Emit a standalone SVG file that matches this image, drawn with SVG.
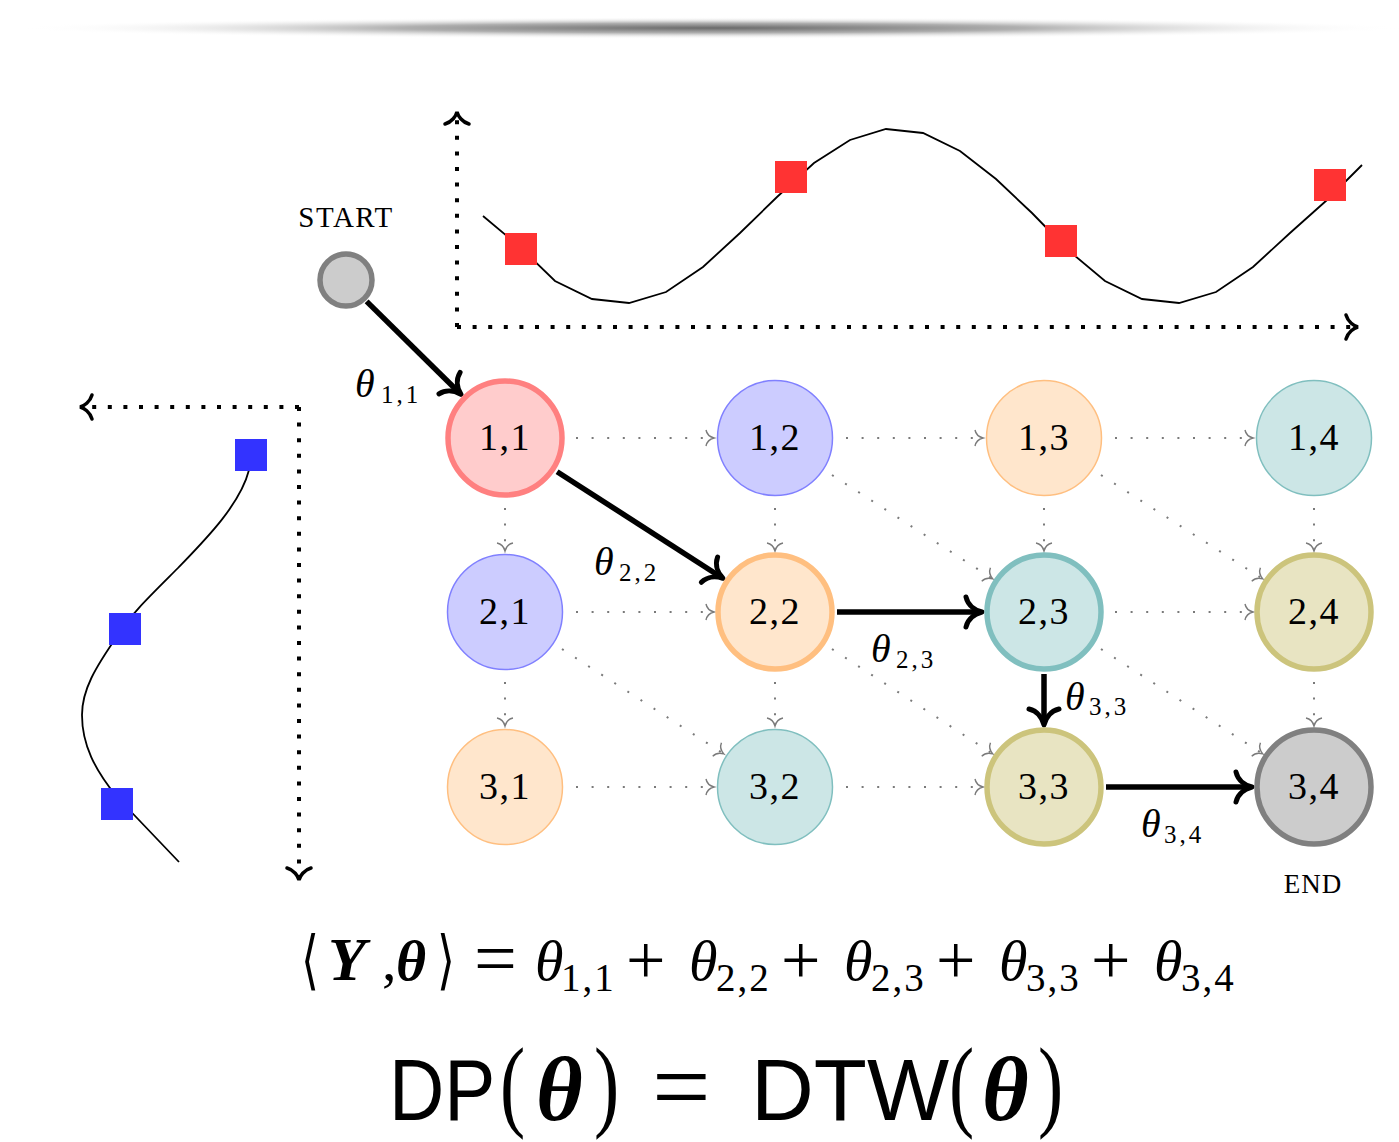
<svg xmlns="http://www.w3.org/2000/svg" width="1399" height="1142" viewBox="0 0 1399 1142">
<style>
.serif{font-family:"Liberation Serif","Times New Roman",serif;fill:#000}
.nl{font-family:"Liberation Serif",serif;font-size:38px;text-anchor:middle;letter-spacing:1.5px}
.thin{stroke-width:1.5}
.thick{stroke-width:5.5}
.red{fill:#ffcccc;stroke:#ff8080}
.blue{fill:#ccccff;stroke:#8080ff}
.orange{fill:#ffe6cc;stroke:#ffbf80}
.teal{fill:#cce6e6;stroke:#80bfbf}
.olive{fill:#e8e4c2;stroke:#ccc47c}
.gray{fill:#cccccc;stroke:#808080}
.dot{stroke:#7a7a7a;stroke-width:2;stroke-dasharray:2 13.6;fill:none;marker-end:url(#ag)}
.bold{stroke:#000;stroke-width:5.5;fill:none;marker-end:url(#ah)}
.axis{stroke:#000;stroke-width:4;stroke-dasharray:4 11.6;fill:none;marker-end:url(#ax)}
.lbl{font-family:"Liberation Serif",serif;font-size:40px;font-style:italic}
.sub{font-family:"Liberation Serif",serif;font-size:25px;font-style:normal;letter-spacing:3px}
.m{font-family:"Liberation Serif",serif}
.th{font-family:"Liberation Serif",serif;font-size:58px;font-style:italic}
.sb{font-family:"Liberation Serif",serif;font-size:39px;letter-spacing:2px}
.op{font-family:"Liberation Serif",serif;font-size:70px}
</style>
<defs>
<radialGradient id="bar" cx="0.5" cy="0.5" r="0.5">
<stop offset="0" stop-color="#6a6a6a"/>
<stop offset="0.45" stop-color="#b0b0b0"/>
<stop offset="1" stop-color="#ffffff" stop-opacity="0"/>
</radialGradient>
<marker id="ah" viewBox="-22 -20 26 40" markerWidth="26" markerHeight="40" refX="-3" refY="0" orient="auto" markerUnits="userSpaceOnUse">
<path d="M-16,-15 C-14,-6 -6,-1.5 0,0 C-6,1.5 -14,6 -16,15" fill="none" stroke="#000" stroke-width="5" stroke-linecap="round" stroke-linejoin="round"/>
</marker>
<marker id="ag" viewBox="-12 -12 16 24" markerWidth="16" markerHeight="24" refX="0" refY="0" orient="auto" markerUnits="userSpaceOnUse">
<path d="M-8,-8 C-7,-3 -3,-0.8 0,0 C-3,0.8 -7,3 -8,8" fill="none" stroke="#7a7a7a" stroke-width="1.4"/>
</marker>
<marker id="ax" viewBox="-18 -18 22 36" markerWidth="22" markerHeight="36" refX="0" refY="0" orient="auto" markerUnits="userSpaceOnUse">
<path d="M-12,-12 C-10,-5 -4,-1 0,0 C-4,1 -10,5 -12,12" fill="none" stroke="#000" stroke-width="3.5" stroke-linecap="round"/>
</marker>
</defs>

<rect width="1399" height="1142" fill="#fff"/>
<ellipse cx="713" cy="28" rx="695" ry="11" fill="url(#bar)"/>

<!-- top time series -->
<g id="top-series">
<path class="axis" d="M457,327 L457,112"/>
<path class="axis" d="M457,327 L1358,327"/>
<polyline fill="none" stroke="#000" stroke-width="1.8" points="483,216 520,247 555,281 592,299 629,303 666,292 703,267 740,233 777,197 814,163 850,140 886,129 923,133 960,151 996,179 1032,213 1068,250 1105,281 1142,299 1179,303 1216,292 1253,267 1290,233 1327,200 1362,165"/>
<g fill="#ff3333">
<rect x="505" y="233" width="32" height="32"/>
<rect x="775" y="161" width="32" height="32"/>
<rect x="1045" y="225" width="32" height="32"/>
<rect x="1314" y="169" width="32" height="32"/>
</g>
</g>

<!-- left time series -->
<g id="left-series">
<path class="axis" d="M299,407 L80,407"/>
<path class="axis" d="M299,407 L299,880"/>
<path fill="none" stroke="#000" stroke-width="1.8" d="M249,470 C240,505 205,540 178,568 C150,596 130,615 118,635 C95,668 82,690 82,715 C82,745 95,770 117,797 L179,862"/>
<g fill="#3333ff">
<rect x="235" y="439" width="32" height="32"/>
<rect x="109" y="613" width="32" height="32"/>
<rect x="101" y="788" width="32" height="32"/>
</g>
</g>

<!-- connectors -->
<g id="connectors">
<line class="dot" x1="576" y1="438" x2="714" y2="438"/>
<line class="dot" x1="846" y1="438" x2="983" y2="438"/>
<line class="dot" x1="1115" y1="438" x2="1253" y2="438"/>
<line class="dot" x1="576" y1="612" x2="714" y2="612"/>
<line class="dot" x1="1115" y1="612" x2="1253" y2="612"/>
<line class="dot" x1="576" y1="787" x2="714" y2="787"/>
<line class="dot" x1="846" y1="787" x2="983" y2="787"/>
<line class="dot" x1="505" y1="508" x2="505" y2="551"/>
<line class="dot" x1="505" y1="682" x2="505" y2="726"/>
<line class="dot" x1="775" y1="508" x2="775" y2="551"/>
<line class="dot" x1="775" y1="682" x2="775" y2="726"/>
<line class="dot" x1="1044" y1="508" x2="1044" y2="551"/>
<line class="dot" x1="1314" y1="508" x2="1314" y2="551"/>
<line class="dot" x1="1314" y1="682" x2="1314" y2="726"/>
<line class="dot" x1="832" y1="475" x2="992.8" y2="578.9"/>
<line class="dot" x1="1101" y1="475" x2="1262.8" y2="578.9"/>
<line class="dot" x1="562" y1="649" x2="723.8" y2="753.9"/>
<line class="dot" x1="832" y1="649" x2="992.8" y2="753.9"/>
<line class="dot" x1="1101" y1="649" x2="1262.8" y2="753.9"/>

<line class="bold" x1="366.6" y1="301.4" x2="458.8" y2="392.3"/>
<line class="bold" x1="557.1" y1="471.7" x2="720.4" y2="576.7"/>
<line class="bold" x1="837" y1="612" x2="979" y2="612"/>
<line class="bold" x1="1044" y1="674" x2="1044" y2="722"/>
<line class="bold" x1="1106" y1="787" x2="1249" y2="787"/>

<text class="lbl" x="355" y="397">θ<tspan class="sub" x="381" y="403">1,1</tspan></text>
<text class="lbl" x="594" y="575">θ<tspan class="sub" x="619" y="581">2,2</tspan></text>
<text class="lbl" x="871" y="662">θ<tspan class="sub" x="896" y="668">2,3</tspan></text>
<text class="lbl" x="1065" y="710">θ<tspan class="sub" x="1089" y="715">3,3</tspan></text>
<text class="lbl" x="1141" y="837">θ<tspan class="sub" x="1164" y="843">3,4</tspan></text>
</g>

<!-- nodes -->
<g id="start">
<circle cx="346" cy="280" r="26" fill="#cccccc" stroke="#808080" stroke-width="5.5"/>
<text class="serif" x="346" y="227" font-size="29" text-anchor="middle" letter-spacing="1.5">START</text>
</g>
<g id="n11"><circle class="red thick" cx="505" cy="438" r="57"/><text class="nl" x="505" y="450">1,1</text></g>
<g id="n12"><circle class="blue thin" cx="775" cy="438" r="57.5"/><text class="nl" x="775" y="450">1,2</text></g>
<g id="n13"><circle class="orange thin" cx="1044" cy="438" r="57.5"/><text class="nl" x="1044" y="450">1,3</text></g>
<g id="n14"><circle class="teal thin" cx="1314" cy="438" r="57.5"/><text class="nl" x="1314" y="450">1,4</text></g>
<g id="n21"><circle class="blue thin" cx="505" cy="612" r="57.5"/><text class="nl" x="505" y="624">2,1</text></g>
<g id="n22"><circle class="orange thick" cx="775" cy="612" r="57"/><text class="nl" x="775" y="624">2,2</text></g>
<g id="n23"><circle class="teal thick" cx="1044" cy="612" r="57"/><text class="nl" x="1044" y="624">2,3</text></g>
<g id="n24"><circle class="olive thick" cx="1314" cy="612" r="57"/><text class="nl" x="1314" y="624">2,4</text></g>
<g id="n31"><circle class="orange thin" cx="505" cy="787" r="57.5"/><text class="nl" x="505" y="799">3,1</text></g>
<g id="n32"><circle class="teal thin" cx="775" cy="787" r="57.5"/><text class="nl" x="775" y="799">3,2</text></g>
<g id="n33"><circle class="olive thick" cx="1044" cy="787" r="57"/><text class="nl" x="1044" y="799">3,3</text></g>
<g id="n34"><circle class="gray thick" cx="1314" cy="787" r="57"/><text class="nl" x="1314" y="799">3,4</text>
<text class="serif" x="1313" y="893" font-size="27" text-anchor="middle" letter-spacing="1">END</text></g>

<!-- equation 1 -->
<g id="eq1">
<text transform="translate(301,982) scale(1,1.4)" font-family="DejaVu Sans, Noto Sans, sans-serif" font-size="46">⟨</text>
<text x="328" y="980" class="m" font-size="62" font-weight="bold" font-style="italic">Y</text>
<text x="382" y="980" class="m" font-size="58">,</text>
<text x="396" y="980" class="m" font-size="58" font-weight="bold" font-style="italic">θ</text>
<text transform="translate(437,982) scale(1,1.4)" font-family="DejaVu Sans, Noto Sans, sans-serif" font-size="46">⟩</text>
<text x="474" y="984" class="m" font-size="76">=</text>
<text x="535" y="980" class="th">θ</text><text x="561" y="991" class="sb">1,1</text>
<text x="626" y="984" class="op">+</text>
<text x="689" y="980" class="th">θ</text><text x="716" y="991" class="sb">2,2</text>
<text x="781" y="984" class="op">+</text>
<text x="844" y="980" class="th">θ</text><text x="871" y="991" class="sb">2,3</text>
<text x="936" y="984" class="op">+</text>
<text x="999" y="980" class="th">θ</text><text x="1026" y="991" class="sb">3,3</text>
<text x="1091" y="984" class="op">+</text>
<text x="1154" y="980" class="th">θ</text><text x="1181" y="991" class="sb">3,4</text>
</g>

<!-- equation 2 -->
<g id="eq2">
<text transform="translate(389,1120) scale(0.88,1)" font-family="Liberation Sans, Arial, sans-serif" font-size="87">DP</text>
<text transform="translate(500,1118) scale(1.05,1.4)" font-family="Liberation Serif, serif" font-size="72">(</text>
<text x="536" y="1120" font-family="Liberation Serif, serif" font-size="90" font-weight="bold" font-style="italic">θ</text>
<text transform="translate(594,1118) scale(1.05,1.4)" font-family="Liberation Serif, serif" font-size="72">)</text>
<text x="652" y="1122" font-family="Liberation Serif, serif" font-size="104">=</text>
<text x="751" y="1120" font-family="Liberation Sans, Arial, sans-serif" font-size="87">DTW</text>
<text transform="translate(949,1118) scale(1.05,1.4)" font-family="Liberation Serif, serif" font-size="72">(</text>
<text x="982" y="1120" font-family="Liberation Serif, serif" font-size="90" font-weight="bold" font-style="italic">θ</text>
<text transform="translate(1038,1118) scale(1.05,1.4)" font-family="Liberation Serif, serif" font-size="72">)</text>
</g>
</svg>
